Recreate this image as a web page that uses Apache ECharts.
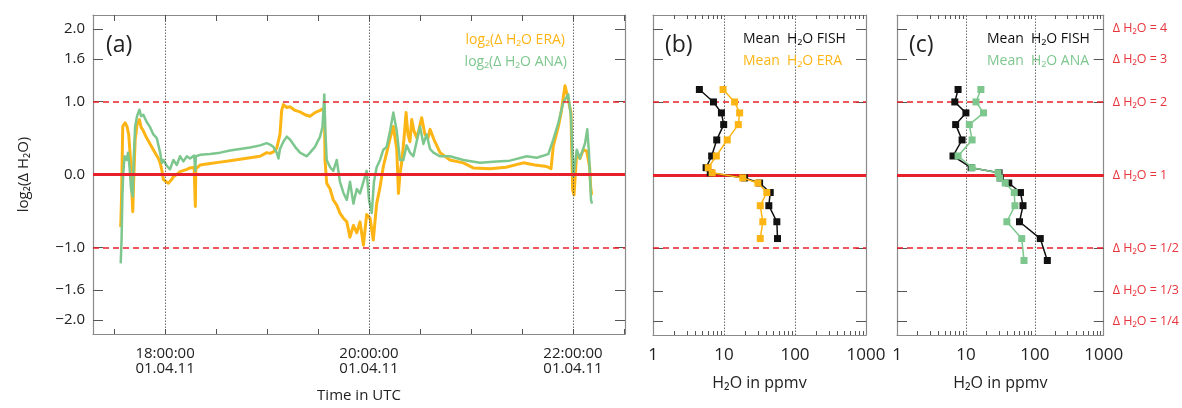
<!DOCTYPE html>
<html><head><meta charset="utf-8">
<script src="https://cdn.jsdelivr.net/npm/echarts@6/dist/echarts.min.js"></script>
<style>html,body{margin:0;padding:0;background:#fff}#c{width:1182px;height:408px}</style>
</head><body><div id="c"></div><script>
// ---- Panel (a): time in minutes after 17:00 UTC, log2(ΔH2O)
const eraMinutes = [33.9,34.4,35.1,36.5,37.6,38.6,39.7,40.4,41.0,41.5,42.4,43.5,44.9,45.9,47.2,49.2,51.2,54.1,56.1,57.1,58.2,59.0,60.0,61.9,63.5,64.9,66.9,68.8,72.8,74.7,77.1,77.6,77.8,78.1,80.6,86.5,92.4,98.2,104.1,110.0,115.9,119.8,121.8,123.7,125.7,127.6,128.6,129.6,131.6,133.5,136.5,139.4,142.4,145.3,148.2,151.2,152.9,153.8,154.1,155.1,157.1,159.0,161.0,162.9,164.9,166.9,168.8,170.8,172.8,174.7,176.7,178.6,180.6,182.5,184.5,186.5,188.4,190.4,192.4,194.3,196.3,197.3,198.2,199.4,200.6,201.8,202.9,204.1,205.1,206.4,208.2,211.0,212.9,214.7,215.9,218.2,221.8,227.6,235.5,241.3,251.2,260.6,270.8,277.6,284.5,287.1,288.4,291.4,293.0,295.3,297.2,298.8,299.8,300.6,302.2,304.1,306.1,308.1,309.8,310.4,311.0];
const eraValues = [-0.72,-0.30,0.66,0.71,0.66,0.55,0.20,-0.20,-0.51,-0.10,0.48,0.68,0.755,0.65,0.60,0.50,0.42,0.30,0.22,0.16,0.05,-0.07,-0.05,-0.12,-0.08,-0.03,0.00,0.04,0.07,0.09,0.10,0.08,-0.44,0.08,0.13,0.15,0.17,0.19,0.21,0.23,0.25,0.30,0.29,0.31,0.36,0.55,0.88,0.96,0.92,0.93,0.88,0.86,0.82,0.80,0.85,0.88,0.90,0.85,0.20,-0.12,-0.20,-0.35,-0.42,-0.53,-0.60,-0.65,-0.86,-0.70,-0.80,-0.65,-0.97,-0.55,-0.60,-0.90,-0.40,-0.17,0.11,0.30,0.50,0.66,0.35,-0.26,0.00,0.20,0.50,0.85,0.55,0.45,0.755,0.60,0.50,0.78,0.55,0.50,0.62,0.48,0.30,0.20,0.16,0.09,0.08,0.10,0.16,0.13,0.11,0.08,0.39,0.66,0.85,1.22,1.03,0.85,-0.21,-0.28,0.30,0.22,0.34,0.32,0.10,-0.17,-0.28];
const anaMinutes = [33.9,34.4,34.9,35.4,36.2,37.4,38.2,39.1,40.0,41.0,41.5,42.4,43.5,44.9,45.9,47.2,49.2,51.2,53.1,55.1,57.1,58.1,59.0,61.0,62.9,64.9,66.9,68.8,70.8,72.8,74.7,77.1,77.8,78.1,80.6,86.5,92.4,98.2,104.1,110.0,115.9,119.8,121.8,123.7,125.7,126.7,127.6,129.6,131.6,133.5,136.5,139.4,143.4,145.3,148.2,151.2,152.6,153.7,154.3,155.1,157.1,159.0,161.0,162.9,164.9,166.9,168.8,170.8,172.8,174.7,176.7,178.6,180.0,181.6,182.9,184.5,186.5,188.4,190.4,192.4,194.3,196.3,198.2,200.2,202.1,204.1,206.1,208.0,210.0,212.0,213.9,215.9,217.9,221.8,227.6,235.5,245.3,255.1,262.9,272.8,278.6,285.5,288.4,291.4,294.3,297.2,298.8,300.2,301.2,302.2,304.1,307.1,308.4,309.4,310.6,311.2];
const anaValues = [-1.22,-0.90,-0.30,0.02,0.25,0.20,0.30,0.10,-0.20,-0.30,0.20,0.66,0.80,0.89,0.80,0.82,0.72,0.65,0.55,0.50,0.30,0.16,0.20,0.12,0.07,0.20,0.13,0.25,0.18,0.25,0.22,0.26,0.05,0.25,0.27,0.28,0.30,0.33,0.35,0.37,0.40,0.43,0.41,0.38,0.30,0.22,0.35,0.45,0.52,0.48,0.38,0.30,0.25,0.30,0.38,0.52,0.65,1.10,0.60,0.20,0.10,0.05,0.20,-0.10,-0.25,-0.35,-0.10,-0.40,-0.20,-0.26,-0.10,0.05,-0.35,-0.53,-0.10,0.10,0.20,0.34,0.38,0.60,0.85,0.60,0.20,0.20,0.40,0.30,0.25,0.45,0.66,0.42,0.55,0.35,0.30,0.25,0.25,0.20,0.16,0.18,0.19,0.25,0.23,0.28,0.48,0.71,0.99,1.10,0.80,-0.03,-0.05,0.34,0.22,0.43,0.62,0.30,-0.35,-0.40];

// ---- Panel (b): mean H2O (ppmv) at log2(ΔH2O) levels
const levelsB = [1.17,1.00,0.85,0.69,0.48,0.26,0.10,0.03,-0.04,-0.11,-0.24,-0.42,-0.64,-0.87];
const fishB   = [4.5,7.1,9.2,9.9,7.9,6.7,5.6,6.4,19.5,31.7,44.8,42.8,55.5,56.7];
const eraB    = [9.7,14.1,16.6,15.9,11.1,7.8,6.0,6.8,18.4,30.0,40.1,32.4,35.2,32.4];

// ---- Panel (c)
const levelsC = [1.17,1.00,0.85,0.69,0.48,0.26,0.10,0.03,-0.04,-0.11,-0.24,-0.42,-0.64,-0.87,-1.17];
const fishC   = [7.7,6.9,10.0,7.1,8.8,6.5,11.9,30.3,31.6,41.9,61.9,67.4,60.0,120,152];
const anaC    = [16.5,14.0,18.0,11.2,12.3,7.7,12.3,29.3,30.9,37.2,50.3,51.5,39.3,64.6,69.7];

// ---- Ticks and labels
const yTickValues = [-2, -1.585, -1, 0, 1, 1.585, 2];
const yTickLabels = ['\u22122.0','\u22121.6','\u22121.0','0.0','1.0','1.6','2.0'];
const ratioLabels = ['\u0394 H\u2082O = 1/4','\u0394 H\u2082O = 1/3','\u0394 H\u2082O = 1/2','\u0394 H\u2082O = 1','\u0394 H\u2082O = 2','\u0394 H\u2082O = 3','\u0394 H\u2082O = 4'];
const timeTickMinutes = [30,60,90,120,150,180,210,240,270,300,330];
const timeLabelMinutes = [60,180,300];
const timeLabelTexts = ['18:00:00\n01.04.11','20:00:00\n01.04.11','22:00:00\n01.04.11'];
const ppmvLabels = [1,10,100,1000];
const ppmvMinor = [2,3,4,5,6,7,8,9,20,30,40,50,60,70,80,90,200,300,400,500,600,700,800,900];
const refLinesY = [0, 1, -1];

const ORANGE = '#FDB515', GREEN = '#7DC78E', RED = '#E8202A', FRAME = '#8a8a8a', TXT = '#222';
const FONT = 'Open Sans';
const YMIN = -2.19, YMAX = 2.19;

function nearestIdx(arr, v){let b=0;for(let i=1;i<arr.length;i++){if(Math.abs(arr[i]-v)<Math.abs(arr[b]-v))b=i;}return b;}

const grids = [
  {left:93, top:15, width:532, height:320},
  {left:653, top:15, width:213, height:320},
  {left:897, top:15, width:213, height:320}
];

function yAxisFor(gi, pos, opts){
  return Object.assign({
    gridIndex: gi, type:'value', min:YMIN, max:YMAX, position:pos,
    axisLine:{show:true, onZero:false, lineStyle:{color:FRAME, width:1.2}},
    axisTick:{show:true, inside:true, length:10, customValues:yTickValues, lineStyle:{color:'#555', width:1}},
    axisLabel:{show:false},
    splitLine:{show:false}
  }, opts||{});
}

const yAxes = [
  yAxisFor(0,'left',{
    axisLabel:{show:true, customValues:yTickValues, formatter:v=>yTickLabels[nearestIdx(yTickValues,v)], fontSize:15, color:TXT, fontFamily:FONT, margin:8},
    name:'log\u2082(\u0394 H\u2082O)', nameLocation:'middle', nameGap:62, nameRotate:90,
    nameTextStyle:{fontSize:15, color:TXT, fontFamily:FONT}
  }),
  yAxisFor(0,'right'),
  yAxisFor(1,'left'),
  yAxisFor(1,'right'),
  yAxisFor(2,'left'),
  yAxisFor(2,'right',{
    axisLabel:{show:true, customValues:yTickValues, formatter:v=>ratioLabels[nearestIdx(yTickValues,v)], fontSize:12.5, color:'#E8343C', fontFamily:FONT, margin:9}
  })
];

function timeAxis(pos, withLabels){
  const ax = {
    gridIndex:0, type:'value', min:17.6, max:330.6, position:pos,
    axisLine:{show:true, onZero:false, lineStyle:{color:FRAME, width:1.2}},
    axisTick:{show:true, inside:true, length: pos==='top'?6:5, customValues:timeTickMinutes, lineStyle:{color:'#555'}},
    axisLabel:{show:false}, splitLine:{show:false}
  };
  if(withLabels){
    ax.axisLabel = {show:true, customValues:timeLabelMinutes, formatter:v=>timeLabelTexts[nearestIdx(timeLabelMinutes,v)], fontSize:15, lineHeight:15, color:TXT, fontFamily:FONT, margin:12};
    ax.name = 'Time in UTC'; ax.nameLocation='middle'; ax.nameGap=54;
    ax.nameTextStyle = {fontSize:15, color:TXT, fontFamily:FONT};
  }
  return ax;
}
function ppmvAxis(gi, pos, withLabels){
  const ax = {
    gridIndex:gi, type:'log', logBase:10, min:1, max:1000, position:pos,
    axisLine:{show:true, onZero:false, lineStyle:{color:FRAME, width:1.2}},
    axisTick:{show:true, inside:true, length:4, customValues:ppmvMinor, lineStyle:{color:'#555'}},
    axisLabel:{show:false}, splitLine:{show:false}
  };
  if(withLabels){
    ax.axisLabel = {show:true, customValues:ppmvLabels, formatter:v=>String(ppmvLabels[nearestIdx(ppmvLabels,v)]), fontSize:17, color:TXT, fontFamily:FONT, margin:12};
    ax.name = 'H\u2082O in ppmv'; ax.nameLocation='middle'; ax.nameGap=40;
    ax.nameTextStyle = {fontSize:16, color:TXT, fontFamily:FONT};
  }
  return ax;
}
const xAxes = [
  timeAxis('bottom', true), timeAxis('top', false),
  ppmvAxis(1,'bottom',true), ppmvAxis(1,'top',false),
  ppmvAxis(2,'bottom',true), ppmvAxis(2,'top',false)
];

function refLines(xi, yi, vlines){
  const data = [];
  vlines.forEach(v=>data.push({xAxis:v, lineStyle:{color:'#444', type:[1.5,1.5], width:0.8}}));
  return {type:'line', xAxisIndex:xi, yAxisIndex:yi, data:[], z:1, silent:true,
    markLine:{symbol:'none', silent:true, label:{show:false}, animation:false, data}};
}
function redLines(xi, yi){
  return {type:'line', xAxisIndex:xi, yAxisIndex:yi, data:[], z:5, silent:true,
    markLine:{symbol:'none', silent:true, label:{show:false}, animation:false,
      data: refLinesY.map(v=> v===0 ? {yAxis:v, lineStyle:{color:RED, type:'solid', width:3}}
                                     : {yAxis:v, lineStyle:{color:RED, type:[6,4], width:1.5}})}};
}
function profile(xi, yi, xs, ys, color, z){
  return {type:'line', xAxisIndex:xi, yAxisIndex:yi, z:z,
    data: xs.map((x,i)=>[x, ys[i]]), symbol:'rect', symbolSize:7,
    lineStyle:{color, width:1.5}, itemStyle:{color}, animation:false};
}

const series = [
  refLines(0,0,timeLabelMinutes),
  {type:'line', xAxisIndex:0, yAxisIndex:0, z:2, showSymbol:false, animation:false,
    data: eraMinutes.map((m,i)=>[m, eraValues[i]]), lineStyle:{color:ORANGE, width:3, join:'round'}},
  {type:'line', xAxisIndex:0, yAxisIndex:0, z:3, showSymbol:false, animation:false,
    data: anaMinutes.map((m,i)=>[m, anaValues[i]]), lineStyle:{color:GREEN, width:2.5, join:'round'}},
  redLines(0,0),
  refLines(2,2,[10,100]),
  redLines(2,2),
  profile(2,2,fishB,levelsB,'#111',6),
  profile(2,2,eraB,levelsB,ORANGE,7),
  refLines(4,4,[10,100]),
  redLines(4,4),
  profile(4,4,fishC,levelsC,'#111',6),
  profile(4,4,anaC,levelsC,GREEN,7)
];

function txt(x,y,text,color,size,align){
  return {type:'text', x, y, z:100, style:{text, fill:color, font:size+'px "'+FONT+'"', textAlign:align||'left', textVerticalAlign:'middle'}};
}
const graphic = [
  txt(106,45,'(a)',TXT,23),
  txt(665,45,'(b)',TXT,23),
  txt(909,45,'(c)',TXT,23),
  txt(565,40,'log\u2082(\u0394 H\u2082O ERA)',ORANGE,14,'right'),
  txt(567,62,'log\u2082(\u0394 H\u2082O ANA)',GREEN,14,'right'),
  txt(743,39,'Mean  H\u2082O FISH','#111',14),
  txt(743,61,'Mean  H\u2082O ERA',ORANGE,14),
  txt(987,39,'Mean  H\u2082O FISH','#111',14),
  txt(987,61,'Mean  H\u2082O ANA',GREEN,14)
];

const chart = echarts.init(document.getElementById('c'), null, {renderer:'canvas'});
chart.setOption({
  animation:false, backgroundColor:'#fff',
  textStyle:{fontFamily:FONT},
  grid:grids, xAxis:xAxes, yAxis:yAxes, series, graphic
});
</script></body></html>
